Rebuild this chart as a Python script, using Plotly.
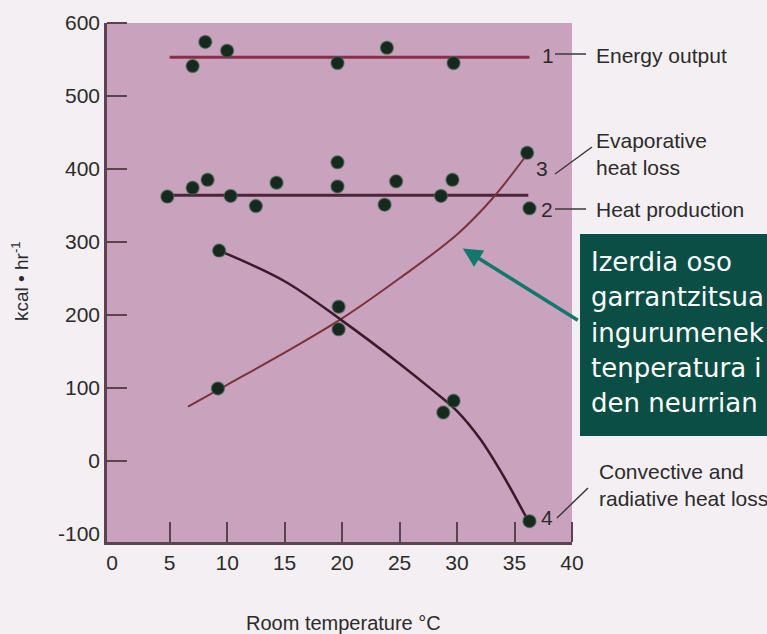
import plotly.graph_objects as go

# ---------------- data ----------------
x_ticks = [0, 5, 10, 15, 20, 25, 30, 35, 40]
x_tick_labels = ["0", "5", "10", "15", "20", "25", "30", "35", "40"]
y_ticks = [-100, 0, 100, 200, 300, 400, 500, 600]
y_tick_labels = ["-100", "0", "100", "200", "300", "400", "500", "600"]

energy_x = [7.0, 8.1, 10.0, 19.6, 23.9, 29.7]
energy_y = [541, 574, 562, 545, 566, 545]
energy_fit_x = [5.0, 36.3]
energy_fit_y = [553, 553]

heat_x = [4.8, 7.0, 8.3, 10.3, 12.5, 14.3, 19.6, 19.6, 23.7, 24.7, 28.6, 29.6, 36.3]
heat_y = [362, 374, 385, 363, 349, 381, 409, 376, 351, 383, 363, 385, 346]
heat_fit_x = [4.8, 36.2]
heat_fit_y = [364, 364]

evap_x = [9.2, 19.7, 36.1]
evap_y = [99, 211, 422]
evap_curve_x = [6.6, 10.0, 15.0, 20.0, 25.0, 30.0, 33.0, 36.0]
evap_curve_y = [74, 104, 148, 195, 250, 310, 358, 418]

conv_x = [9.3, 19.7, 28.8, 29.7, 36.3]
conv_y = [288, 180, 66, 82, -83]
conv_curve_x = [9.3, 15.0, 20.0, 25.0, 28.0, 30.0, 32.0, 34.0, 36.2]
conv_curve_y = [288, 246, 192, 133, 95, 68, 30, -20, -83]

box_lines = ["Izerdia oso", "garrantzitsua", "ingurumenek",
             "tenperatura i", "den neurrian"]

# ---------------- layout helpers ----------------
W, H = 767, 634
L, R, T, B = 107, 195, 23, 92
PW, PH = W - L - R, H - T - B


def px(xp):
    return (xp - L) / PW


def py(yp):
    return (H - B - yp) / PH


NARROW = "Liberation Sans Narrow, Arial Narrow, Liberation Sans, Arial, sans-serif"
AXC = "#5b4352"
DOT = "#17281f"
TXT = "#2b2b2b"

fig = go.Figure()

# fitted lines / curves
fig.add_trace(go.Scatter(x=energy_fit_x, y=energy_fit_y, mode="lines",
                         line=dict(color="#8e2c4a", width=3), hoverinfo="skip"))
fig.add_trace(go.Scatter(x=heat_fit_x, y=heat_fit_y, mode="lines",
                         line=dict(color="#4a2638", width=3), hoverinfo="skip"))
fig.add_trace(go.Scatter(x=evap_curve_x, y=evap_curve_y, mode="lines",
                         line=dict(color="#7b3238", width=2, shape="spline", smoothing=1.0),
                         hoverinfo="skip"))
fig.add_trace(go.Scatter(x=conv_curve_x, y=conv_curve_y, mode="lines",
                         line=dict(color="#3b1a2c", width=2.5, shape="spline", smoothing=1.0),
                         hoverinfo="skip"))

mk = dict(color=DOT, size=13, line=dict(color="rgba(60,110,80,0.55)", width=1.5))
for xs, ys in [(energy_x, energy_y), (heat_x, heat_y), (evap_x, evap_y), (conv_x, conv_y)]:
    fig.add_trace(go.Scatter(x=xs, y=ys, mode="markers", marker=mk))

shapes = []
annotations = []

# green explanation box
shapes.append(dict(type="rect", xref="paper", yref="paper",
                   x0=px(580), x1=px(820), y0=py(436), y1=py(234),
                   fillcolor="#0b4e45", line=dict(width=0), layer="above"))
for i, t in enumerate(box_lines):
    annotations.append(dict(xref="paper", yref="paper", x=px(589), y=py(262 + i * 35.3),
                            xanchor="left", yanchor="middle", text=t, showarrow=False,
                            font=dict(family="DejaVu Sans, Verdana, sans-serif", size=26,
                                      color="white")))

# teal arrow
annotations.append(dict(x=30.5, y=291, xref="x", yref="y", text=" ", showarrow=True,
                        ax=117, ay=73, arrowhead=2, arrowsize=1.1, arrowwidth=3.5,
                        arrowcolor="#13786b", font=dict(size=2)))

# right-side labels
lab_font = dict(family=NARROW, size=21, color=TXT)
lead = dict(color="#3a3a3a", width=1.5)


def line(x0, y0, x1, y1):
    shapes.append(dict(type="line", xref="paper", yref="paper",
                       x0=px(x0), y0=py(y0), x1=px(x1), y1=py(y1), line=lead))


def text(x, y, t, anchor="left"):
    annotations.append(dict(xref="paper", yref="paper", x=px(x), y=py(y), text=t,
                            xanchor=anchor, yanchor="middle", showarrow=False,
                            font=lab_font, align="left"))


text(548, 55, "1", "center")
line(555, 54, 586, 54)
text(594, 55, "Energy output")

text(594, 154, "Evaporative<br>heat loss")
text(542, 168, "3", "center")
line(555, 174, 592, 147)

text(547, 210, "2", "center")
line(555, 209, 586, 209)
text(594, 210, "Heat production")

text(547, 517, "4", "center")
line(557, 518, 588, 488)
text(597, 485, "Convective and<br>radiative heat loss")

# axis titles
annotations.append(dict(xref="paper", yref="paper", x=px(343), y=py(623),
                        xanchor="center", yanchor="middle", showarrow=False,
                        text="Room temperature °C",
                        font=dict(family=NARROW, size=20, color=TXT)))
annotations.append(dict(xref="paper", yref="paper", x=px(20), y=py(281),
                        xanchor="center", yanchor="middle", showarrow=False,
                        textangle=-90, text="kcal • hr<sup>-1</sup>",
                        font=dict(family=NARROW, size=19, color=TXT)))

tickfont = dict(family=NARROW, size=21, color=TXT)
fig.update_layout(
    width=W, height=H, autosize=False,
    margin=dict(l=L, r=R, t=T, b=B, pad=0),
    paper_bgcolor="#f4eff2", plot_bgcolor="#c9a3bd",
    showlegend=False,
    shapes=shapes, annotations=annotations,
    xaxis=dict(range=[-0.45, 40], tickmode="array", tickvals=x_ticks, ticktext=x_tick_labels,
               ticks="", showline=True, linecolor=AXC, linewidth=2.5, showgrid=False,
               zeroline=False, tickfont=tickfont,
               minor=dict(tickmode="array", tickvals=x_ticks[1:], ticks="inside",
                          ticklen=20, tickwidth=2, tickcolor=AXC, showgrid=False)),
    yaxis=dict(range=[-111.5, 600], tickmode="array", tickvals=y_ticks, ticktext=y_tick_labels,
               ticks="", showline=True, linecolor=AXC, linewidth=2.5, showgrid=False,
               zeroline=False, tickfont=tickfont,
               minor=dict(tickmode="array", tickvals=y_ticks[1:], ticks="inside",
                          ticklen=20, tickwidth=2, tickcolor=AXC, showgrid=False)),
)

fig.write_html("out.html")
